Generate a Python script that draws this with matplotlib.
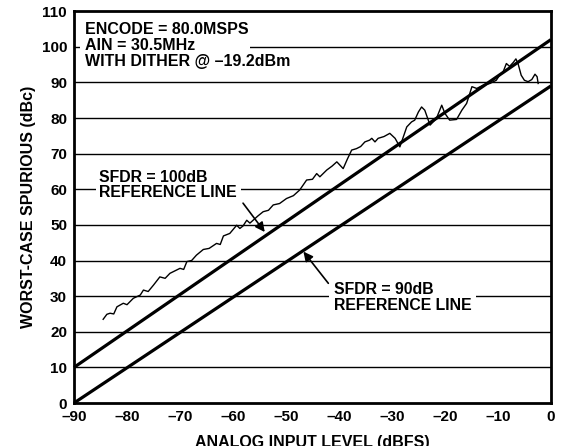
import matplotlib
matplotlib.use('Agg')
import matplotlib.pyplot as plt
from matplotlib.patches import Rectangle

plt.rcParams['font.family'] = ['Liberation Sans', 'DejaVu Sans']
plt.rcParams['font.weight'] = 'bold'

# ---- data ----
input_level = [-84.5, -83.8, -83.2, -82.5, -81.9, -80.7, -80.0, -78.8, -77.5, -76.9,
               -76.0, -75.0, -73.8, -72.8, -71.9, -70.0, -69.3, -68.7, -67.8, -66.9,
               -65.6, -64.5, -63.1, -62.4, -61.8, -60.6, -59.3, -58.7, -58.1, -57.4,
               -56.8, -56.2, -55.3, -54.3, -53.3, -52.4, -51.2, -49.9, -48.6, -47.4,
               -46.1, -45.0, -44.2, -43.6, -42.3, -41.3, -40.4, -39.2, -38.4, -37.6,
               -36.7, -35.9, -35.1, -34.2, -33.8, -33.2, -32.6, -31.5, -30.4, -29.4,
               -28.5, -27.2, -26.3, -25.7, -25.0, -24.4, -23.8, -22.8, -21.6, -20.6,
               -20.0, -19.1, -17.8, -16.8, -15.9, -14.9, -14.0, -12.8, -11.5, -10.3,
               -9.6, -9.0, -8.4, -7.8, -7.1, -6.6, -6.2, -5.6, -5.0, -4.3,
               -3.6, -3.0, -2.6, -2.4]
worst_spur = [23.5, 24.9, 25.2, 25.0, 27.0, 28.0, 27.6, 29.4, 30.3, 31.7,
              31.3, 33.1, 35.4, 35.0, 36.4, 37.8, 37.5, 39.7, 40.0, 41.5,
              43.1, 43.4, 44.8, 44.5, 46.9, 47.6, 49.9, 49.0, 49.7, 51.3,
              50.5, 51.3, 52.5, 53.7, 54.1, 55.6, 56.0, 57.4, 58.2, 59.8,
              62.6, 62.8, 64.4, 63.5, 65.4, 66.5, 67.7, 65.8, 68.5, 71.0,
              71.4, 72.0, 73.3, 73.8, 74.3, 73.3, 74.3, 74.8, 75.7, 74.3,
              71.9, 77.5, 78.9, 79.4, 81.7, 83.1, 82.2, 78.0, 79.9, 83.6,
              81.3, 79.4, 79.6, 82.2, 84.1, 88.8, 88.3, 89.2, 89.7, 90.6,
              92.2, 93.0, 95.3, 94.5, 95.6, 96.6, 95.3, 92.0, 90.6, 90.2,
              90.8, 92.3, 91.6, 89.7]

ref100_x = [-90, 0]
ref100_y = [10, 102]
ref90_x = [-90, 0]
ref90_y = [0, 89]

x_ticks = [-90, -80, -70, -60, -50, -40, -30, -20, -10, 0]
y_ticks = [0, 10, 20, 30, 40, 50, 60, 70, 80, 90, 100, 110]

fig, ax = plt.subplots(figsize=(5.65, 4.46), dpi=100)
fig.subplots_adjust(left=0.131, right=0.975, top=0.975, bottom=0.0964)

for yv in y_ticks[1:-1]:
    ax.axhline(yv, color='black', lw=1.0, zorder=1)

ax.plot(ref100_x, ref100_y, color='black', lw=2.3, zorder=3, clip_on=False,
        solid_capstyle='butt')
ax.plot(ref90_x, ref90_y, color='black', lw=2.3, zorder=3, clip_on=False,
        solid_capstyle='butt')
ax.plot(input_level, worst_spur, color='black', lw=1.0, zorder=3)

ax.set_xlim(-90, 0)
ax.set_ylim(0, 110)
ax.set_xticks(x_ticks)
ax.set_xticklabels([str(v).replace('-', '\u2013') for v in x_ticks])
ax.set_yticks(y_ticks)
ax.set_yticklabels([str(v) for v in y_ticks])
ax.tick_params(length=0, labelsize=11, pad=5)
for lab in ax.get_xticklabels() + ax.get_yticklabels():
    lab.set_fontweight('bold')
for sp in ax.spines.values():
    sp.set_linewidth(2.0)
    sp.set_zorder(5)

ax.set_xlabel('ANALOG INPUT LEVEL (dBFS)', fontsize=11.5, fontweight='bold', labelpad=8)
ax.set_ylabel('WORST-CASE SPURIOUS (dBc)', fontsize=11.5, fontweight='bold', labelpad=4)

# white gap in the 100 gridline behind the conditions text
ax.add_patch(Rectangle((0.0126, 0.898), 0.356, 0.022, transform=ax.transAxes,
                       facecolor='white', edgecolor='none', zorder=2))
ax.text(0.023, 0.9128, 'ENCODE = 80.0MSPS\nAIN = 30.5MHz\nWITH DITHER @ \u201319.2dBm',
        transform=ax.transAxes, ha='left', va='center', fontsize=11.5,
        fontweight='bold', linespacing=1.08, zorder=4)

ax.text(-85.2, 61.2, 'SFDR = 100dB\nREFERENCE LINE', ha='left', va='center',
        fontsize=11.4, fontweight='bold', linespacing=1.02, zorder=4,
        bbox=dict(facecolor='white', edgecolor='none', pad=2.5))
ax.annotate('', xy=(-54.0, 48.0), xytext=(-58.1, 56.1),
            arrowprops=dict(arrowstyle='-|>', color='black', lw=1.2,
                            mutation_scale=14, shrinkA=0, shrinkB=0), zorder=4)

ax.text(-41.0, 29.6, 'SFDR = 90dB\nREFERENCE LINE', ha='left', va='center',
        fontsize=11.4, fontweight='bold', linespacing=1.02, zorder=4,
        bbox=dict(facecolor='white', edgecolor='none', pad=3.5))
ax.annotate('', xy=(-46.7, 42.5), xytext=(-42.0, 33.6),
            arrowprops=dict(arrowstyle='-|>', color='black', lw=1.2,
                            mutation_scale=14, shrinkA=0, shrinkB=0), zorder=4)

fig.savefig('out.png', dpi=100)
